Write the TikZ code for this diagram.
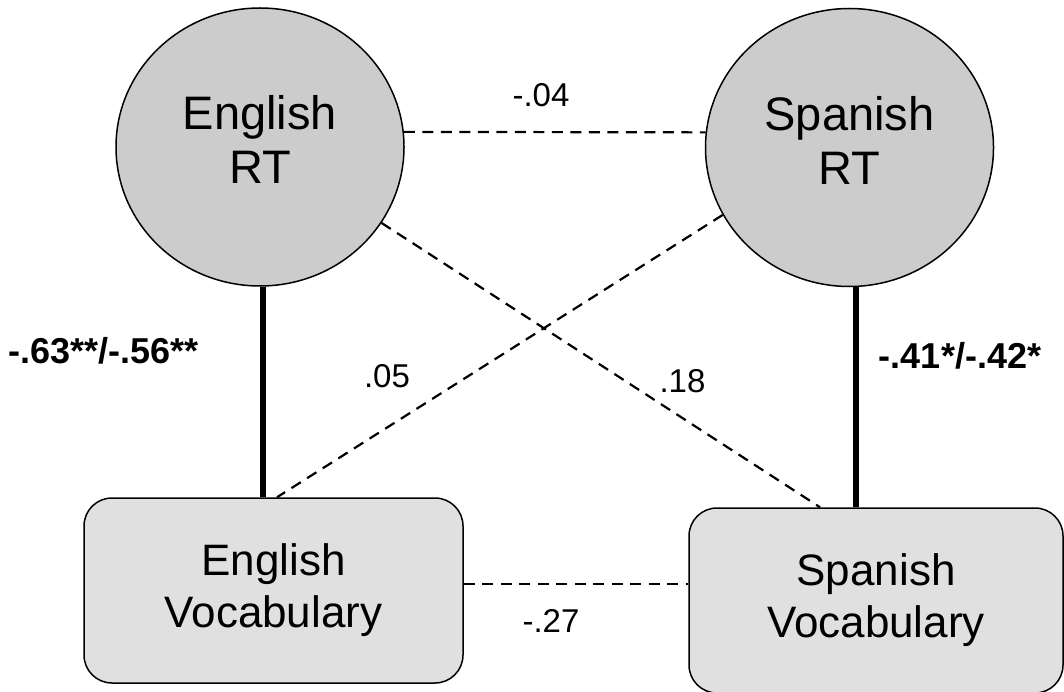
\documentclass[tikz,border=0pt]{standalone}
\usepackage{fontspec}
\setmainfont{Liberation Sans}
\usetikzlibrary{shapes.geometric}
\definecolor{latentfill}{RGB}{204,204,204}
\definecolor{boxfill}{RGB}{224,224,224}
\begin{document}
\begin{tikzpicture}[x=1pt, y=-1pt,
	latent/.style={ellipse, draw, line width=1.5pt, fill=latentfill, minimum width=288pt, minimum height=278pt, inner sep=0pt, align=center, font=\fontsize{47}{54}\selectfont, text depth=15pt},
	measure/.style={rectangle, rounded corners=28pt, draw, line width=1.5pt, fill=boxfill, inner sep=0pt, align=center, font=\fontsize{44}{52}\selectfont},
	strong/.style={line width=6pt},
	weak/.style={line width=2.2pt, dash pattern=on 11pt off 7.5pt},
	coef/.style={anchor=base, inner sep=0pt, font=\fontsize{33}{33}\selectfont},
	bigcoef/.style={coef, font=\bfseries\fontsize{36}{36}\selectfont}]
	\useasboundingbox (0, 0) rectangle (1064, 692);
	% latent variables
	\node[latent] (engrt) at (260, 147) {English\\RT};
	\node[latent] (sprt) at (849.5, 147.5) {Spanish\\RT};
	% measured variables
	\node[measure, minimum width=379pt, minimum height=185pt] (engvoc) at (273.5, 590.5) {English\\Vocabulary};
	\node[measure, minimum width=374pt, minimum height=185pt] (spavoc) at (876, 600.5) {Spanish\\Vocabulary};
	% paths
	\draw[strong] ([xshift=3pt]engrt.south) -- ([xshift=3pt]engrt.south |- engvoc.north);
	\draw[strong] ([xshift=6pt]sprt.south) -- ([xshift=6pt]sprt.south |- spavoc.north);
	\draw[weak] (engrt.6) -- (sprt.174);
	\draw[weak] (engrt.328) -- ([xshift=-56pt]spavoc.north);
	\draw[weak] (sprt.208) -- ([xshift=3.5pt]engvoc.north);
	\draw[weak] ([yshift=6.5pt]engvoc.east) -- ([yshift=6.5pt]engvoc.east -| spavoc.west);
	% coefficients
	\node[coef] (rtcov) at (541, 107) {-.04};
	\node[coef] (voccov) at (551, 632) {-.27};
	\node[coef] (crossa) at (387, 387) {.05};
	\node[coef] (crossb) at (682.5, 392) {.18};
	\node[bigcoef] (engpath) at (103.5, 363) {-.63**/-.56**};
	\node[bigcoef] (spapath) at (960, 368) {-.41*/-.42*};
\end{tikzpicture}
\end{document}
